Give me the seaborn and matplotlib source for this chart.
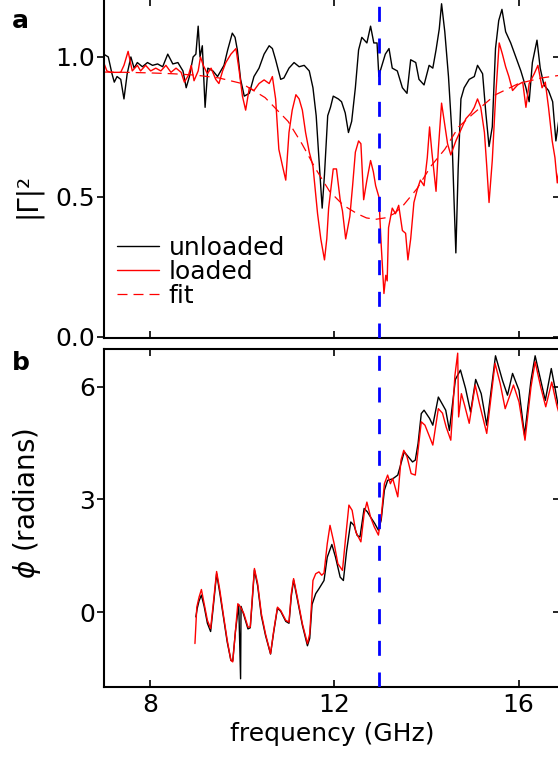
import matplotlib
matplotlib.use("Agg")
import matplotlib.pyplot as plt
import seaborn as sns

# |Gamma|^2 vs frequency, unloaded (black)
freq_unl = [7.00, 7.10, 7.18, 7.23, 7.29, 7.37, 7.44, 7.51, 7.59, 7.66, 7.73, 7.84, 7.95, 8.06,
            8.17, 8.28, 8.39, 8.50, 8.61, 8.72, 8.79, 8.86, 8.94, 9.00, 9.05, 9.09, 9.14, 9.20,
            9.26, 9.37, 9.47, 9.54, 9.61, 9.69, 9.79, 9.85, 9.90, 9.97, 10.05, 10.16, 10.26,
            10.37, 10.48, 10.59, 10.66, 10.73, 10.84, 10.91, 11.02, 11.13, 11.24, 11.35, 11.46,
            11.54, 11.61, 11.68, 11.74, 11.79, 11.86, 11.92, 11.98, 12.09, 12.16, 12.24, 12.31,
            12.38, 12.46, 12.53, 12.60, 12.71, 12.79, 12.86, 12.93, 12.97, 13.00, 13.11, 13.19,
            13.26, 13.37, 13.48, 13.58, 13.66, 13.77, 13.84, 13.95, 14.06, 14.14, 14.21, 14.28,
            14.33, 14.40, 14.48, 14.55, 14.60, 14.64, 14.69, 14.75, 14.82, 14.93, 15.04, 15.11,
            15.22, 15.29, 15.36, 15.43, 15.50, 15.57, 15.64, 15.72, 15.83, 15.94, 16.05, 16.16,
            16.23, 16.30, 16.40, 16.47, 16.55, 16.65, 16.74, 16.81, 16.87]
gam_unl = [1.01, 1.00, 0.94, 0.91, 0.93, 0.92, 0.85, 0.94, 1.00, 0.96, 0.98, 0.965, 0.98, 0.97,
           0.975, 0.965, 1.01, 0.975, 0.98, 0.95, 0.89, 0.93, 1.00, 1.01, 1.11, 1.00, 1.04, 0.82,
           0.96, 0.95, 0.93, 0.95, 0.97, 1.025, 1.085, 1.07, 1.025, 0.92, 0.86, 0.87, 0.93,
           0.96, 1.01, 1.04, 1.03, 0.99, 0.92, 0.925, 0.96, 0.98, 0.965, 0.97, 0.95,
           0.89, 0.79, 0.61, 0.46, 0.58, 0.79, 0.82, 0.86, 0.85, 0.84, 0.80, 0.73,
           0.77, 0.89, 1.025, 1.07, 1.05, 1.11, 1.05, 1.05, 0.93, 0.95, 1.01, 1.03,
           0.96, 0.95, 0.89, 0.87, 0.99, 0.98, 0.92, 0.90, 0.97, 0.96, 1.025, 1.10,
           1.19, 1.09, 0.93, 0.74, 0.49, 0.30, 0.60, 0.85, 0.89, 0.92, 0.93, 0.97,
           0.94, 0.80, 0.68, 0.75, 1.03, 1.13, 1.17, 1.09, 1.05, 1.00, 0.95, 0.89,
           0.84, 0.98, 1.06, 0.96, 0.90, 0.88, 0.84, 0.70, 0.77]

# |Gamma|^2 vs frequency, loaded (red)
freq_ld = [7.00, 7.07, 7.15, 7.25, 7.37, 7.44, 7.53, 7.62, 7.73, 7.80, 7.91, 8.02, 8.13, 8.24,
           8.35, 8.46, 8.57, 8.68, 8.75, 8.84, 8.90, 8.96, 9.05, 9.10, 9.16, 9.25, 9.33, 9.43,
           9.50, 9.58, 9.65, 9.76, 9.87, 9.94, 10.01, 10.08, 10.16, 10.26, 10.37, 10.48, 10.59,
           10.66, 10.73, 10.80, 10.88, 10.95, 11.02, 11.09, 11.17, 11.24, 11.31, 11.38, 11.46,
           11.54, 11.64, 11.71, 11.79, 11.84, 11.88, 11.98, 12.05, 12.13, 12.18, 12.25, 12.34,
           12.40, 12.46, 12.53, 12.58, 12.64, 12.71, 12.79, 12.85, 12.90, 12.97, 13.02, 13.08,
           13.12, 13.15, 13.18, 13.26, 13.33, 13.40, 13.48, 13.55, 13.60, 13.66, 13.73, 13.80,
           13.87, 13.95, 14.02, 14.07, 14.12, 14.21, 14.26, 14.33, 14.38, 14.46, 14.53, 14.64,
           14.75, 14.86, 14.97, 15.04, 15.11, 15.18, 15.26, 15.31, 15.36, 15.43, 15.50, 15.58,
           15.65, 15.72, 15.79, 15.87, 15.98, 16.09, 16.16, 16.23, 16.34, 16.42, 16.51, 16.58,
           16.65, 16.73, 16.79, 16.84, 16.88]
gam_ld = [0.98, 0.95, 0.945, 0.945, 0.945, 0.97, 1.02, 0.95, 0.97, 0.95, 0.97, 0.95, 0.96, 0.95,
          0.97, 0.945, 0.96, 0.945, 0.91, 0.935, 0.97, 0.915, 0.95, 1.00, 0.97, 0.94, 0.96, 0.92,
          0.905, 0.95, 0.98, 1.01, 1.03, 0.95, 0.86, 0.81, 0.89, 0.88, 0.905, 0.918, 0.905,
          0.93, 0.85, 0.67, 0.61, 0.56, 0.73, 0.81, 0.865, 0.85, 0.81, 0.73, 0.66,
          0.61, 0.44, 0.35, 0.275, 0.35, 0.46, 0.60, 0.60, 0.49, 0.45, 0.35, 0.43,
          0.54, 0.66, 0.70, 0.69, 0.49, 0.56, 0.63, 0.59, 0.54, 0.50, 0.33, 0.155,
          0.22, 0.20, 0.39, 0.46, 0.44, 0.47, 0.38, 0.37, 0.275, 0.35, 0.48, 0.525,
          0.56, 0.54, 0.64, 0.75, 0.66, 0.52, 0.67, 0.835, 0.78, 0.69, 0.65, 0.70,
          0.74, 0.78, 0.80, 0.82, 0.85, 0.82, 0.73, 0.61, 0.48, 0.63, 0.85, 1.05,
          1.01, 0.965, 0.93, 0.88, 0.90, 0.91, 0.82, 0.905, 0.94, 0.97, 0.89, 0.91,
          0.82, 0.70, 0.64, 0.55, 0.60]

# fitted resonance (red dashed)
freq_fit = [7.0, 7.5, 8.0, 8.5, 9.0, 9.5, 10.0, 10.5, 11.0, 11.3, 11.6, 11.9, 12.2, 12.5, 12.7,
            12.9, 13.1, 13.3, 13.5, 13.8, 14.1, 14.4, 14.7, 15.0, 15.5, 16.0, 16.5, 16.92]
gam_fit = [0.946, 0.945, 0.943, 0.94, 0.935, 0.925, 0.905, 0.855, 0.77, 0.69, 0.60, 0.52, 0.47,
           0.44, 0.425, 0.42, 0.425, 0.44, 0.47, 0.53, 0.61, 0.67, 0.75, 0.795, 0.865, 0.905,
           0.925, 0.935]

# phase vs frequency, unloaded (black)
freq_ph_unl = [9.00, 9.03, 9.07, 9.12, 9.18, 9.25, 9.32, 9.37, 9.45, 9.52, 9.60, 9.68, 9.76,
               9.80, 9.86, 9.93, 9.97, 9.98, 10.04, 10.13, 10.18, 10.22, 10.27, 10.34, 10.42,
               10.51, 10.62, 10.69, 10.77, 10.84, 10.95, 11.02, 11.07, 11.12, 11.20, 11.31,
               11.42, 11.47, 11.52, 11.60, 11.67, 11.78, 11.85, 11.95, 12.03, 12.13, 12.20,
               12.27, 12.36, 12.43, 12.50, 12.56, 12.65, 12.72, 12.79, 12.88, 12.96, 13.02,
               13.09, 13.16, 13.27, 13.38, 13.45, 13.52, 13.60, 13.70, 13.76, 13.82, 13.89,
               13.95, 14.07, 14.14, 14.26, 14.42, 14.50, 14.63, 14.74, 14.85, 14.96, 15.07,
               15.19, 15.31, 15.50, 15.65, 15.76, 15.87, 16.01, 16.13, 16.27, 16.36, 16.48,
               16.58, 16.71, 16.80, 16.86]
phi_unl = [-0.13, 0.10, 0.30, 0.45, 0.15, -0.30, -0.52, 0.05, 1.02, 0.50, -0.15, -0.80, -1.29,
           -1.30, -0.50, 0.20, -1.78, 0.15, -0.08, -0.45, -0.42, 0.25, 1.12, 0.70, -0.10,
           -0.62, -1.12, -0.52, 0.10, 0.02, -0.25, -0.30, 0.42, 0.85, 0.35, -0.35,
           -0.90, -0.70, 0.20, 0.49, 0.62, 0.84, 1.46, 1.80, 1.46, 0.93, 0.84,
           1.63, 2.40, 2.31, 2.04, 2.00, 2.76, 2.67, 2.53, 2.36, 2.18, 2.45,
           3.25, 3.51, 3.55, 3.65, 3.96, 4.27, 4.15, 4.00, 4.05, 4.49, 5.29,
           5.38, 5.16, 4.98, 5.73, 5.38, 4.84, 6.20, 6.45, 5.96, 5.33, 6.20,
           5.82, 4.98, 6.83, 6.18, 5.78, 6.36, 5.91, 4.71, 6.18, 6.83, 6.18,
           5.64, 6.49, 5.91, 5.50]

# phase vs frequency, loaded (red)
freq_ph_ld = [8.98, 9.02, 9.07, 9.12, 9.18, 9.25, 9.32, 9.37, 9.45, 9.52, 9.60, 9.68, 9.76,
              9.80, 9.86, 9.91, 9.97, 10.04, 10.13, 10.18, 10.22, 10.27, 10.34, 10.42, 10.51,
              10.62, 10.69, 10.77, 10.84, 10.95, 11.02, 11.07, 11.12, 11.20, 11.31, 11.42,
              11.47, 11.54, 11.60, 11.67, 11.73, 11.78, 11.85, 11.91, 12.00, 12.08, 12.18,
              12.25, 12.32, 12.39, 12.47, 12.58, 12.65, 12.71, 12.79, 12.87, 12.96, 13.02,
              13.09, 13.16, 13.22, 13.27, 13.38, 13.45, 13.51, 13.58, 13.67, 13.76, 13.82,
              13.89, 13.97, 14.07, 14.14, 14.26, 14.35, 14.43, 14.53, 14.62, 14.68, 14.70,
              14.76, 14.83, 14.93, 15.06, 15.15, 15.31, 15.49, 15.60, 15.71, 15.89, 16.01,
              16.14, 16.27, 16.36, 16.48, 16.59, 16.72, 16.83, 16.88]
phi_ld = [-0.84, 0.13, 0.40, 0.60, 0.22, -0.22, -0.44, 0.13, 1.08, 0.58, -0.10, -0.75, -1.29,
          -1.33, -0.49, 0.22, 0.13, -0.04, -0.40, -0.40, 0.31, 1.16, 0.76, -0.04, -0.58,
          -1.11, -0.49, 0.13, 0.04, -0.22, -0.27, 0.49, 0.89, 0.40, -0.31, -0.84,
          -0.58, 0.84, 1.02, 1.07, 0.98, 1.04, 1.82, 2.31, 1.82, 1.29, 1.11,
          2.00, 2.85, 2.71, 2.13, 1.87, 2.62, 2.93, 2.53, 2.27, 2.05, 2.53,
          3.42, 3.65, 3.42, 3.56, 3.07, 4.05, 4.31, 4.14, 3.69, 3.65, 4.31,
          5.07, 4.98, 4.67, 4.45, 5.42, 5.30, 4.93, 4.58, 6.31, 6.90, 5.20,
          5.82, 5.51, 5.03, 6.05, 5.56, 4.76, 6.63, 6.10, 5.42, 6.05, 5.60,
          4.58, 6.00, 6.67, 6.00, 5.47, 6.13, 5.51, 5.29]

f_marker = 12.97
x_ticks = [8, 12, 16]
gam_ticks = [0.0, 0.5, 1.0]
phi_ticks = [0, 3, 6]

sns.set_style("ticks", rc={"axes.edgecolor": "black", "text.color": "black",
                           "xtick.color": "black", "ytick.color": "black",
                           "axes.labelcolor": "black"})
plt.rcParams["font.family"] = ["DejaVu Sans"]
plt.rcParams["axes.linewidth"] = 1.5

fig = plt.figure(figsize=(5.58, 7.71), dpi=100)
ax1 = fig.add_axes([0.1858, 0.5616, 0.8195, 0.4397])
ax2 = fig.add_axes([0.1858, 0.1089, 0.8195, 0.4384])

# top panel
sns.lineplot(x=freq_unl, y=gam_unl, ax=ax1, color="black", linewidth=1.0,
             label="unloaded", sort=False, estimator=None)
sns.lineplot(x=freq_ld, y=gam_ld, ax=ax1, color="red", linewidth=1.0,
             label="loaded", sort=False, estimator=None)
sns.lineplot(x=freq_fit, y=gam_fit, ax=ax1, color="red", linewidth=0.9,
             linestyle=(0, (8, 4.8)), label="fit", sort=False, estimator=None)

# bottom panel
sns.lineplot(x=freq_ph_unl, y=phi_unl, ax=ax2, color="black", linewidth=1.0,
             sort=False, estimator=None)
sns.lineplot(x=freq_ph_ld, y=phi_ld, ax=ax2, color="red", linewidth=1.0,
             sort=False, estimator=None)

for ax, yt, ylim in [(ax1, gam_ticks, (-0.004, 1.207)), (ax2, phi_ticks, (-2.0, 7.01))]:
    ax.axvline(f_marker, color="blue", linewidth=2, linestyle=(0, (5.4, 6)), zorder=5)
    ax.set_xlim(7, 16.92)
    ax.set_ylim(*ylim)
    ax.set_xticks(x_ticks)
    ax.set_yticks(yt)
    ax.tick_params(axis="x", direction="in", top=True, bottom=True, length=5, width=1.2,
                   labelsize=18, pad=4)
    ax.tick_params(axis="y", direction="out", left=True, right=False, length=5, width=1.2,
                   labelsize=18, pad=1)
    sec = ax.secondary_yaxis("right")
    sec.set_yticks(yt)
    sec.tick_params(direction="in", length=6, width=1.2, labelright=False)
    sec.spines["right"].set_linewidth(1.5)

ax1.set_yticklabels(["0.0", "0.5", "1.0"])
ax1.tick_params(axis="x", labelbottom=False)
ax2.set_yticklabels(["0", "3", "6"])

ax1.set_ylabel("|Γ|²", fontsize=20)
ax1.yaxis.set_label_coords(-0.135, 0.422)
ax2.set_ylabel(r"$\phi$ (radians)", fontsize=20)
ax2.yaxis.set_label_coords(-0.133, 0.544)
ax2.set_xlabel("frequency (GHz)", fontsize=18, labelpad=4)

ax1.legend(loc="lower left", bbox_to_anchor=(0.03, 0.088), frameon=False, fontsize=18,
           borderpad=0, borderaxespad=0, handlelength=1.65, handletextpad=0.4,
           labelspacing=0.0)

fig.text(0.0215, 0.9637, "a", fontsize=18, fontweight="bold", va="baseline")
fig.text(0.0215, 0.5195, "b", fontsize=18, fontweight="bold", va="baseline")

fig.savefig("out.png", dpi=100)
